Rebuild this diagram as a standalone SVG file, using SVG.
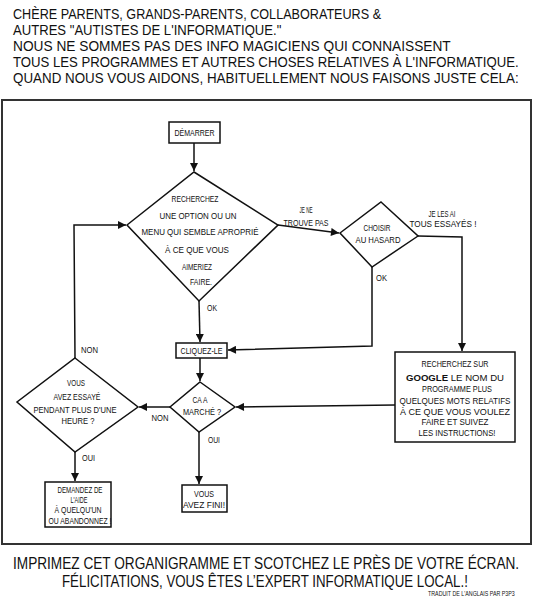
<svg xmlns="http://www.w3.org/2000/svg" width="533" height="600" viewBox="0 0 533 600">
<style>
.h{font-family:"Liberation Sans",Arial,sans-serif;font-size:14px;fill:#111;}
.f{font-family:"Liberation Sans",Arial,sans-serif;font-size:17px;fill:#111;}
.t{font-family:"Liberation Sans",Arial,sans-serif;font-size:9px;fill:#111;text-anchor:middle;}
.s{font-family:"Liberation Sans",Arial,sans-serif;font-size:7px;fill:#111;}
.b{font-weight:bold;}
.n{fill:#fff;stroke:#111;stroke-width:1.5;stroke-linejoin:miter;}
.c{fill:none;stroke:#111;stroke-width:1.5;marker-end:url(#ah);}
</style>
<defs>
<marker id="ah" viewBox="0 0 10 10" refX="10" refY="5" markerWidth="9" markerHeight="8" markerUnits="userSpaceOnUse" orient="auto">
<path d="M0,0 L10,5 L0,10 z" fill="#111"/>
</marker>
</defs>
<rect width="533" height="600" fill="#fff"/>
<g id="header">
<text class="h" transform="translate(13,19) scale(0.86,1)" textLength="428" lengthAdjust="spacingAndGlyphs">CHÈRE PARENTS, GRANDS-PARENTS, COLLABORATEURS &amp;</text>
<text class="h" transform="translate(13,35) scale(0.86,1)" textLength="312" lengthAdjust="spacingAndGlyphs">AUTRES "AUTISTES DE L'INFORMATIQUE."</text>
<text class="h" transform="translate(13,51) scale(0.86,1)" textLength="509" lengthAdjust="spacingAndGlyphs">NOUS NE SOMMES PAS DES INFO MAGICIENS QUI CONNAISSENT</text>
<text class="h" transform="translate(13,67) scale(0.86,1)" textLength="588" lengthAdjust="spacingAndGlyphs">TOUS LES PROGRAMMES ET AUTRES CHOSES RELATIVES À L'INFORMATIQUE.</text>
<text class="h" transform="translate(13,83) scale(0.86,1)" textLength="588" lengthAdjust="spacingAndGlyphs">QUAND NOUS VOUS AIDONS, HABITUELLEMENT NOUS FAISONS JUSTE CELA:</text>
</g>
<rect id="frame" x="2" y="100" width="529" height="444" fill="none" stroke="#333" stroke-width="2"/>
<g id="connectors">
<path class="c" d="M194,143 L194,171"/>
<path class="c" d="M278,225 L339,233"/>
<path class="c" d="M418,236 L462,237 L462,351"/>
<path class="c" d="M372,267 L372,346 L228,350"/>
<path class="c" d="M199,301 L200,342"/>
<path class="c" d="M200,358 L200,381"/>
<path class="c" d="M395,405 L236,407"/>
<path class="c" d="M170,407 L139,407"/>
<path class="c" d="M75,358 L74,225 L126,225"/>
<path class="c" d="M75,452 L75,481"/>
<path class="c" d="M199,432 L199,484"/>
<text class="t" x="207" y="311" style="text-anchor:start" textLength="10" lengthAdjust="spacingAndGlyphs">OK</text>
<text class="t" x="306" y="213" textLength="13" lengthAdjust="spacingAndGlyphs">JE NE</text>
<text class="t" x="306" y="226" textLength="45" lengthAdjust="spacingAndGlyphs">TROUVE PAS</text>
<text class="t" x="442" y="217" textLength="27" lengthAdjust="spacingAndGlyphs">JE LES AI</text>
<text class="t" x="443" y="227" textLength="67" lengthAdjust="spacingAndGlyphs">TOUS ESSAYÉS !</text>
<text class="t" x="376" y="281" style="text-anchor:start" textLength="11" lengthAdjust="spacingAndGlyphs">OK</text>
<text class="t" x="81" y="353" style="text-anchor:start" textLength="17" lengthAdjust="spacingAndGlyphs">NON</text>
<text class="t" x="160" y="421" textLength="17" lengthAdjust="spacingAndGlyphs">NON</text>
<text class="t" x="208" y="443" style="text-anchor:start" textLength="12" lengthAdjust="spacingAndGlyphs">OUI</text>
<text class="t" x="82" y="461" style="text-anchor:start" textLength="13" lengthAdjust="spacingAndGlyphs">OUI</text>
</g>
<g id="start">
<rect class="n" x="169" y="122" width="51" height="21"/>
<text class="t" x="194.5" y="136" textLength="40" lengthAdjust="spacingAndGlyphs">DÉMARRER</text>
</g>
<g id="search-menu">
<polygon class="n" points="194,172 278,225 199,301 127,225"/>
<text class="t" x="195" y="202" textLength="47" lengthAdjust="spacingAndGlyphs">RECHERCHEZ</text>
<text class="t" x="198" y="219" textLength="77" lengthAdjust="spacingAndGlyphs">UNE OPTION OU UN</text>
<text class="t" x="200" y="235" textLength="117" lengthAdjust="spacingAndGlyphs">MENU QUI SEMBLE APROPRIÉ</text>
<text class="t" x="197" y="253" textLength="64" lengthAdjust="spacingAndGlyphs">À CE QUE VOUS</text>
<text class="t" x="197" y="270" textLength="30" lengthAdjust="spacingAndGlyphs">AIMERIEZ</text>
<text class="t" x="201" y="285" textLength="22" lengthAdjust="spacingAndGlyphs">FAIRE.</text>
</g>
<g id="random">
<polygon class="n" points="381,202 418,236 372,267 340,233"/>
<text class="t" x="377" y="231" textLength="27" lengthAdjust="spacingAndGlyphs">CHOISIR</text>
<text class="t" x="378" y="243" textLength="45" lengthAdjust="spacingAndGlyphs">AU HASARD</text>
</g>
<g id="click">
<rect class="n" x="176" y="343" width="51" height="15"/>
<text class="t" x="201.5" y="354" textLength="42" lengthAdjust="spacingAndGlyphs">CLIQUEZ-LE</text>
</g>
<g id="worked">
<polygon class="n" points="200,382 235,407 199,432 170,407"/>
<text class="t" x="200" y="403" textLength="15" lengthAdjust="spacingAndGlyphs">CA A</text>
<text class="t" x="202" y="415" textLength="38" lengthAdjust="spacingAndGlyphs">MARCHÉ ?</text>
</g>
<g id="hour">
<polygon class="n" points="75,358 138,407 75,452 17,402"/>
<text class="t" x="76" y="386" textLength="18" lengthAdjust="spacingAndGlyphs">VOUS</text>
<text class="t" x="77" y="400" textLength="47" lengthAdjust="spacingAndGlyphs">AVEZ ESSAYÉ</text>
<text class="t" x="75" y="413" textLength="83" lengthAdjust="spacingAndGlyphs">PENDANT PLUS D'UNE</text>
<text class="t" x="78" y="424" textLength="33" lengthAdjust="spacingAndGlyphs">HEURE ?</text>
</g>
<g id="ask-help">
<rect class="n" x="45" y="482" width="66" height="45"/>
<text class="t" x="80" y="493" textLength="45" lengthAdjust="spacingAndGlyphs">DEMANDEZ DE</text>
<text class="t" x="79" y="503" textLength="17" lengthAdjust="spacingAndGlyphs">L'AIDE</text>
<text class="t" x="78" y="513" textLength="47" lengthAdjust="spacingAndGlyphs">À QUELQU'UN</text>
<text class="t" x="80" y="524" textLength="63" lengthAdjust="spacingAndGlyphs">OU ABANDONNEZ !</text>
</g>
<g id="done">
<rect class="n" x="182" y="485" width="45" height="27"/>
<text class="t" x="204" y="497" textLength="20" lengthAdjust="spacingAndGlyphs">VOUS</text>
<text class="t" x="204" y="508" textLength="42" lengthAdjust="spacingAndGlyphs">AVEZ FINI!</text>
</g>
<g id="google">
<rect class="n" x="395" y="352" width="120" height="90"/>
<text class="t" x="455" y="367" textLength="67" lengthAdjust="spacingAndGlyphs">RECHERCHEZ SUR</text>
<text class="t" x="455" y="381" textLength="98" lengthAdjust="spacingAndGlyphs"><tspan class="b">GOOGLE</tspan> LE NOM  DU</text>
<text class="t" x="457" y="392" textLength="70" lengthAdjust="spacingAndGlyphs">PROGRAMME PLUS</text>
<text class="t" x="455" y="404" textLength="111" lengthAdjust="spacingAndGlyphs">QUELQUES MOTS RELATIFS</text>
<text class="t" x="455" y="415" textLength="110" lengthAdjust="spacingAndGlyphs">À CE QUE VOUS VOULEZ</text>
<text class="t" x="455" y="425" textLength="67" lengthAdjust="spacingAndGlyphs">FAIRE ET SUIVEZ</text>
<text class="t" x="457" y="436" textLength="77" lengthAdjust="spacingAndGlyphs">LES INSTRUCTIONS!</text>
</g>
<g id="footer">
<text class="f" transform="translate(13,569) scale(0.76,1)" textLength="666" lengthAdjust="spacingAndGlyphs">IMPRIMEZ CET ORGANIGRAMME ET SCOTCHEZ LE PRÈS DE VOTRE ÉCRAN.</text>
<text class="f" transform="translate(62,587) scale(0.76,1)" textLength="534" lengthAdjust="spacingAndGlyphs">FÉLICITATIONS, VOUS ÊTES L’EXPERT INFORMATIQUE LOCAL.!</text>
<text class="s" transform="translate(428,596) scale(0.7,1)" textLength="124" lengthAdjust="spacingAndGlyphs">TRADUIT DE L'ANGLAIS PAR P3P3</text>
</g>
</svg>
